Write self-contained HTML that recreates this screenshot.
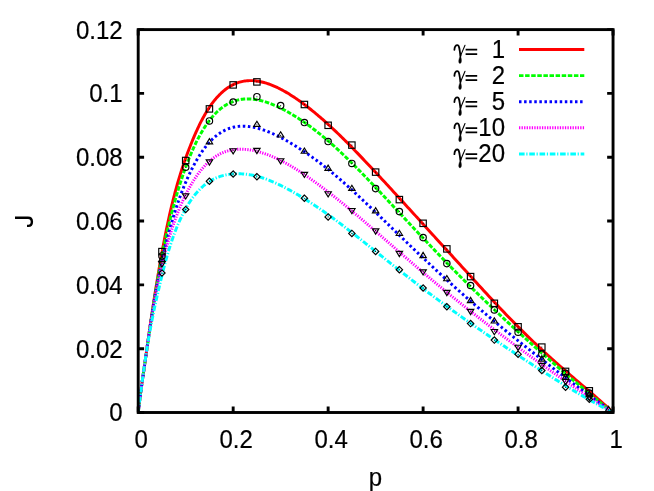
<!DOCTYPE html>
<html><head><meta charset="utf-8"><title>J vs p</title>
<style>html,body{margin:0;padding:0;background:#fff;}body{width:654px;height:491px;overflow:hidden;}svg{display:block;filter:blur(0.35px);}text{font-family:"Liberation Sans",sans-serif;font-size:24px;fill:#000;stroke:#000;stroke-width:0.2px;}.t{filter:grayscale(1);}.g{font-family:"Liberation Serif",serif;}</style></head><body>
<svg width="654" height="491" viewBox="0 0 654 491">
<rect x="0" y="0" width="654" height="491" fill="#fff"/>
<defs><clipPath id="pc"><rect x="138.20" y="29.60" width="474.85" height="382.90"/></clipPath></defs>
<g fill="none" stroke-width="2.95" stroke-linejoin="round" clip-path="url(#pc)">
<path d="M138.20,412.50 L138.23,412.24 L138.30,411.71 L138.39,410.99 L138.50,410.09 L138.63,409.04 L138.78,407.84 L138.94,406.51 L139.11,405.05 L139.30,403.47 L139.50,401.79 L139.72,400.02 L139.94,398.17 L140.18,396.25 L140.43,394.28 L140.69,392.27 L140.96,390.22 L141.25,388.15 L141.54,386.06 L141.84,383.94 L142.15,381.80 L142.47,379.62 L142.80,377.38 L143.14,375.08 L143.49,372.71 L143.85,370.27 L144.21,367.75 L144.59,365.15 L144.97,362.48 L145.36,359.72 L145.76,356.89 L146.16,353.99 L146.58,351.02 L147.00,348.00 L147.43,344.94 L147.87,341.83 L148.32,338.69 L148.77,335.51 L149.23,332.30 L149.70,329.05 L150.18,325.77 L150.66,322.47 L151.15,319.14 L151.64,315.78 L152.15,312.40 L152.66,309.01 L153.18,305.59 L153.70,302.17 L154.23,298.72 L154.77,295.27 L155.31,291.81 L155.86,288.35 L156.42,284.88 L156.99,281.40 L157.56,277.93 L158.13,274.47 L158.72,271.00 L159.31,267.55 L159.90,264.10 L160.50,260.67 L161.11,257.25 L161.72,253.84 L162.34,250.45 L162.97,247.09 L163.60,243.74 L164.24,240.42 L164.89,237.13 L165.54,233.86 L166.19,230.62 L166.85,227.41 L167.52,224.23 L168.19,221.09 L168.87,217.98 L169.56,214.91 L170.25,211.88 L170.94,208.88 L171.64,205.92 L172.35,203.01 L173.06,200.13 L173.78,197.30 L174.50,194.51 L175.23,191.75 L175.97,189.04 L176.71,186.38 L177.45,183.75 L178.20,181.17 L178.96,178.62 L179.72,176.11 L180.48,173.65 L181.26,171.22 L182.03,168.82 L182.81,166.46 L183.60,164.13 L184.39,161.83 L185.19,159.56 L185.99,157.31 L186.80,155.09 L187.61,152.88 L188.43,150.70 L189.25,148.55 L190.08,146.42 L190.91,144.31 L191.75,142.23 L192.59,140.17 L193.44,138.14 L194.29,136.14 L195.15,134.16 L196.01,132.21 L196.88,130.29 L197.75,128.41 L198.63,126.55 L199.51,124.73 L200.39,122.94 L201.28,121.19 L202.18,119.47 L203.08,117.80 L203.99,116.16 L204.90,114.56 L205.81,113.00 L206.73,111.47 L207.65,109.99 L208.58,108.54 L209.51,107.14 L210.45,105.77 L211.39,104.44 L212.34,103.14 L213.29,101.89 L214.25,100.67 L215.21,99.49 L216.17,98.35 L217.14,97.25 L218.12,96.18 L219.09,95.16 L220.08,94.17 L221.06,93.21 L222.06,92.30 L223.05,91.42 L224.05,90.57 L225.06,89.76 L226.07,88.99 L227.08,88.26 L228.10,87.56 L229.12,86.89 L230.15,86.27 L231.18,85.67 L232.21,85.11 L233.25,84.59 L234.30,84.10 L235.34,83.64 L236.40,83.21 L237.45,82.82 L238.51,82.46 L239.58,82.14 L240.65,81.85 L241.72,81.58 L242.80,81.35 L243.88,81.16 L244.97,80.99 L246.06,80.85 L247.15,80.74 L248.25,80.67 L249.35,80.62 L250.46,80.60 L251.57,80.61 L252.69,80.65 L253.80,80.72 L254.93,80.81 L256.05,80.94 L257.19,81.09 L258.32,81.26 L259.46,81.46 L260.60,81.69 L261.75,81.95 L262.90,82.23 L264.06,82.53 L265.22,82.86 L266.38,83.21 L267.55,83.59 L268.72,83.99 L269.89,84.42 L271.07,84.86 L272.26,85.33 L273.44,85.83 L274.63,86.34 L275.83,86.88 L277.03,87.43 L278.23,88.01 L279.44,88.61 L280.65,89.23 L281.86,89.87 L283.08,90.53 L284.30,91.20 L285.53,91.90 L286.76,92.62 L287.99,93.35 L289.23,94.11 L290.47,94.88 L291.71,95.67 L292.96,96.47 L294.21,97.30 L295.47,98.14 L296.73,99.00 L297.99,99.87 L299.26,100.76 L300.53,101.67 L301.81,102.60 L303.09,103.54 L304.37,104.49 L305.66,105.47 L306.95,106.45 L308.24,107.46 L309.54,108.47 L310.84,109.51 L312.14,110.55 L313.45,111.62 L314.76,112.70 L316.08,113.79 L317.40,114.90 L318.72,116.02 L320.05,117.15 L321.38,118.31 L322.71,119.47 L324.05,120.65 L325.39,121.85 L326.74,123.05 L328.09,124.28 L329.44,125.52 L330.79,126.77 L332.15,128.03 L333.52,129.31 L334.88,130.61 L336.25,131.91 L337.63,133.23 L339.00,134.56 L340.38,135.91 L341.77,137.26 L343.16,138.63 L344.55,140.01 L345.94,141.40 L347.34,142.80 L348.74,144.21 L350.15,145.64 L351.56,147.07 L352.97,148.51 L354.38,149.97 L355.80,151.43 L357.23,152.90 L358.65,154.38 L360.08,155.87 L361.52,157.37 L362.95,158.87 L364.39,160.39 L365.84,161.91 L367.28,163.44 L368.73,164.98 L370.19,166.53 L371.64,168.08 L373.11,169.64 L374.57,171.21 L376.04,172.78 L377.51,174.36 L378.98,175.95 L380.46,177.54 L381.94,179.14 L383.43,180.75 L384.91,182.36 L386.40,183.97 L387.90,185.60 L389.40,187.22 L390.90,188.86 L392.40,190.50 L393.91,192.14 L395.42,193.79 L396.94,195.44 L398.46,197.10 L399.98,198.76 L401.50,200.43 L403.03,202.10 L404.56,203.78 L406.10,205.46 L407.63,207.14 L409.18,208.83 L410.72,210.53 L412.27,212.22 L413.82,213.92 L415.37,215.63 L416.93,217.34 L418.49,219.05 L420.06,220.77 L421.62,222.49 L423.19,224.21 L424.77,225.94 L426.35,227.67 L427.93,229.41 L429.51,231.14 L431.10,232.89 L432.69,234.63 L434.28,236.38 L435.88,238.13 L437.48,239.89 L439.08,241.65 L440.69,243.41 L442.30,245.18 L443.91,246.95 L445.52,248.72 L447.14,250.50 L448.77,252.28 L450.39,254.07 L452.02,255.85 L453.65,257.64 L455.29,259.44 L456.93,261.23 L458.57,263.04 L460.21,264.84 L461.86,266.65 L463.51,268.46 L465.16,270.27 L466.82,272.09 L468.48,273.91 L470.14,275.74 L471.81,277.56 L473.48,279.39 L475.15,281.23 L476.83,283.06 L478.51,284.90 L480.19,286.74 L481.88,288.57 L483.56,290.41 L485.25,292.25 L486.95,294.09 L488.65,295.93 L490.35,297.76 L492.05,299.59 L493.76,301.43 L495.47,303.25 L497.18,305.08 L498.90,306.90 L500.62,308.72 L502.34,310.54 L504.06,312.35 L505.79,314.15 L507.52,315.95 L509.26,317.75 L511.00,319.54 L512.74,321.32 L514.48,323.10 L516.23,324.87 L517.98,326.64 L519.73,328.39 L521.48,330.15 L523.24,331.89 L525.00,333.63 L526.77,335.36 L528.54,337.08 L530.31,338.80 L532.08,340.50 L533.86,342.20 L535.64,343.90 L537.42,345.58 L539.21,347.26 L540.99,348.93 L542.79,350.59 L544.58,352.25 L546.38,353.89 L548.18,355.54 L549.98,357.17 L551.79,358.80 L553.60,360.42 L555.41,362.03 L557.23,363.64 L559.05,365.25 L560.87,366.85 L562.69,368.44 L564.52,370.03 L566.35,371.62 L568.18,373.21 L570.02,374.79 L571.86,376.37 L573.70,377.95 L575.54,379.53 L577.39,381.10 L579.24,382.68 L581.10,384.27 L582.95,385.85 L584.81,387.44 L586.67,389.03 L588.54,390.63 L590.41,392.24 L592.28,393.85 L594.15,395.47 L596.03,397.11 L597.91,398.75 L599.79,400.41 L601.68,402.08 L603.57,403.77 L605.46,405.47 L607.35,407.20 L609.25,408.94 L611.15,410.71 L613.05,412.50" stroke="#ff0000"/>
<path d="M138.20,412.50 L138.23,412.24 L138.30,411.72 L138.39,410.99 L138.50,410.10 L138.63,409.05 L138.78,407.85 L138.94,406.52 L139.11,405.07 L139.30,403.50 L139.50,401.83 L139.72,400.07 L139.94,398.23 L140.18,396.31 L140.43,394.34 L140.69,392.33 L140.96,390.28 L141.25,388.20 L141.54,386.09 L141.84,383.97 L142.15,381.81 L142.47,379.61 L142.80,377.35 L143.14,375.03 L143.49,372.65 L143.85,370.20 L144.21,367.68 L144.59,365.09 L144.97,362.42 L145.36,359.68 L145.76,356.87 L146.16,353.99 L146.58,351.06 L147.00,348.07 L147.43,345.05 L147.87,341.99 L148.32,338.90 L148.77,335.78 L149.23,332.63 L149.70,329.45 L150.18,326.25 L150.66,323.02 L151.15,319.78 L151.64,316.52 L152.15,313.25 L152.66,309.96 L153.18,306.66 L153.70,303.35 L154.23,300.04 L154.77,296.73 L155.31,293.41 L155.86,290.10 L156.42,286.79 L156.99,283.48 L157.56,280.19 L158.13,276.90 L158.72,273.63 L159.31,270.37 L159.90,267.12 L160.50,263.90 L161.11,260.69 L161.72,257.50 L162.34,254.34 L162.97,251.21 L163.60,248.09 L164.24,245.01 L164.89,241.95 L165.54,238.93 L166.19,235.93 L166.85,232.97 L167.52,230.03 L168.19,227.13 L168.87,224.26 L169.56,221.43 L170.25,218.62 L170.94,215.85 L171.64,213.11 L172.35,210.39 L173.06,207.71 L173.78,205.06 L174.50,202.43 L175.23,199.83 L175.97,197.26 L176.71,194.71 L177.45,192.19 L178.20,189.70 L178.96,187.24 L179.72,184.81 L180.48,182.41 L181.26,180.04 L182.03,177.69 L182.81,175.38 L183.60,173.10 L184.39,170.85 L185.19,168.62 L185.99,166.44 L186.80,164.28 L187.61,162.15 L188.43,160.06 L189.25,158.00 L190.08,155.97 L190.91,153.97 L191.75,152.01 L192.59,150.08 L193.44,148.19 L194.29,146.33 L195.15,144.50 L196.01,142.72 L196.88,140.96 L197.75,139.24 L198.63,137.56 L199.51,135.92 L200.39,134.31 L201.28,132.74 L202.18,131.21 L203.08,129.72 L203.99,128.26 L204.90,126.85 L205.81,125.47 L206.73,124.12 L207.65,122.82 L208.58,121.55 L209.51,120.32 L210.45,119.13 L211.39,117.97 L212.34,116.85 L213.29,115.77 L214.25,114.72 L215.21,113.71 L216.17,112.73 L217.14,111.80 L218.12,110.89 L219.09,110.03 L220.08,109.19 L221.06,108.40 L222.06,107.63 L223.05,106.90 L224.05,106.21 L225.06,105.55 L226.07,104.92 L227.08,104.33 L228.10,103.77 L229.12,103.24 L230.15,102.74 L231.18,102.28 L232.21,101.85 L233.25,101.45 L234.30,101.08 L235.34,100.74 L236.40,100.43 L237.45,100.15 L238.51,99.90 L239.58,99.68 L240.65,99.49 L241.72,99.32 L242.80,99.19 L243.88,99.08 L244.97,99.00 L246.06,98.95 L247.15,98.92 L248.25,98.92 L249.35,98.95 L250.46,99.00 L251.57,99.07 L252.69,99.18 L253.80,99.30 L254.93,99.45 L256.05,99.62 L257.19,99.82 L258.32,100.04 L259.46,100.28 L260.60,100.54 L261.75,100.83 L262.90,101.14 L264.06,101.47 L265.22,101.82 L266.38,102.19 L267.55,102.58 L268.72,102.99 L269.89,103.42 L271.07,103.87 L272.26,104.33 L273.44,104.82 L274.63,105.33 L275.83,105.85 L277.03,106.39 L278.23,106.95 L279.44,107.53 L280.65,108.12 L281.86,108.73 L283.08,109.36 L284.30,110.00 L285.53,110.66 L286.76,111.33 L287.99,112.02 L289.23,112.73 L290.47,113.45 L291.71,114.19 L292.96,114.94 L294.21,115.71 L295.47,116.50 L296.73,117.29 L297.99,118.11 L299.26,118.93 L300.53,119.77 L301.81,120.63 L303.09,121.50 L304.37,122.39 L305.66,123.29 L306.95,124.20 L308.24,125.13 L309.54,126.07 L310.84,127.03 L312.14,128.00 L313.45,128.99 L314.76,129.99 L316.08,131.00 L317.40,132.03 L318.72,133.08 L320.05,134.14 L321.38,135.22 L322.71,136.31 L324.05,137.42 L325.39,138.54 L326.74,139.68 L328.09,140.83 L329.44,142.00 L330.79,143.19 L332.15,144.39 L333.52,145.61 L334.88,146.84 L336.25,148.09 L337.63,149.35 L339.00,150.63 L340.38,151.92 L341.77,153.22 L343.16,154.54 L344.55,155.87 L345.94,157.22 L347.34,158.57 L348.74,159.94 L350.15,161.32 L351.56,162.72 L352.97,164.12 L354.38,165.53 L355.80,166.96 L357.23,168.40 L358.65,169.84 L360.08,171.30 L361.52,172.77 L362.95,174.24 L364.39,175.73 L365.84,177.22 L367.28,178.72 L368.73,180.23 L370.19,181.75 L371.64,183.28 L373.11,184.81 L374.57,186.35 L376.04,187.90 L377.51,189.46 L378.98,191.02 L380.46,192.59 L381.94,194.17 L383.43,195.75 L384.91,197.33 L386.40,198.92 L387.90,200.52 L389.40,202.12 L390.90,203.73 L392.40,205.34 L393.91,206.96 L395.42,208.58 L396.94,210.20 L398.46,211.83 L399.98,213.46 L401.50,215.09 L403.03,216.73 L404.56,218.37 L406.10,220.01 L407.63,221.66 L409.18,223.31 L410.72,224.96 L412.27,226.61 L413.82,228.27 L415.37,229.92 L416.93,231.58 L418.49,233.24 L420.06,234.90 L421.62,236.56 L423.19,238.22 L424.77,239.88 L426.35,241.55 L427.93,243.21 L429.51,244.87 L431.10,246.54 L432.69,248.20 L434.28,249.87 L435.88,251.53 L437.48,253.20 L439.08,254.86 L440.69,256.53 L442.30,258.19 L443.91,259.85 L445.52,261.51 L447.14,263.18 L448.77,264.84 L450.39,266.50 L452.02,268.16 L453.65,269.81 L455.29,271.47 L456.93,273.12 L458.57,274.78 L460.21,276.43 L461.86,278.08 L463.51,279.73 L465.16,281.38 L466.82,283.03 L468.48,284.68 L470.14,286.32 L471.81,287.96 L473.48,289.60 L475.15,291.24 L476.83,292.88 L478.51,294.52 L480.19,296.15 L481.88,297.79 L483.56,299.42 L485.25,301.05 L486.95,302.67 L488.65,304.30 L490.35,305.92 L492.05,307.55 L493.76,309.17 L495.47,310.79 L497.18,312.41 L498.90,314.02 L500.62,315.64 L502.34,317.25 L504.06,318.86 L505.79,320.47 L507.52,322.08 L509.26,323.68 L511.00,325.29 L512.74,326.89 L514.48,328.49 L516.23,330.09 L517.98,331.69 L519.73,333.29 L521.48,334.89 L523.24,336.48 L525.00,338.07 L526.77,339.66 L528.54,341.25 L530.31,342.84 L532.08,344.43 L533.86,346.02 L535.64,347.60 L537.42,349.19 L539.21,350.77 L540.99,352.35 L542.79,353.93 L544.58,355.51 L546.38,357.08 L548.18,358.66 L549.98,360.23 L551.79,361.81 L553.60,363.38 L555.41,364.95 L557.23,366.52 L559.05,368.09 L560.87,369.65 L562.69,371.22 L564.52,372.78 L566.35,374.34 L568.18,375.90 L570.02,377.46 L571.86,379.01 L573.70,380.57 L575.54,382.12 L577.39,383.67 L579.24,385.22 L581.10,386.76 L582.95,388.30 L584.81,389.84 L586.67,391.38 L588.54,392.91 L590.41,394.45 L592.28,395.97 L594.15,397.50 L596.03,399.02 L597.91,400.54 L599.79,402.05 L601.68,403.56 L603.57,405.06 L605.46,406.56 L607.35,408.05 L609.25,409.54 L611.15,411.02 L613.05,412.50" stroke="#00ff00" stroke-dasharray="4.5 1.6"/>
<path d="M138.20,412.50 L138.23,412.24 L138.30,411.71 L138.39,410.99 L138.50,410.09 L138.63,409.04 L138.78,407.84 L138.94,406.51 L139.11,405.05 L139.30,403.48 L139.50,401.80 L139.72,400.04 L139.94,398.19 L140.18,396.27 L140.43,394.30 L140.69,392.29 L140.96,390.25 L141.25,388.18 L141.54,386.09 L141.84,383.97 L142.15,381.83 L142.47,379.65 L142.80,377.40 L143.14,375.09 L143.49,372.71 L143.85,370.25 L144.21,367.72 L144.59,365.11 L144.97,362.41 L145.36,359.64 L145.76,356.80 L146.16,353.88 L146.58,350.90 L147.00,347.88 L147.43,344.83 L147.87,341.75 L148.32,338.64 L148.77,335.51 L149.23,332.37 L149.70,329.20 L150.18,326.03 L150.66,322.85 L151.15,319.67 L151.64,316.49 L152.15,313.31 L152.66,310.13 L153.18,306.97 L153.70,303.81 L154.23,300.68 L154.77,297.55 L155.31,294.45 L155.86,291.38 L156.42,288.32 L156.99,285.29 L157.56,282.29 L158.13,279.31 L158.72,276.37 L159.31,273.45 L159.90,270.56 L160.50,267.69 L161.11,264.86 L161.72,262.04 L162.34,259.25 L162.97,256.48 L163.60,253.73 L164.24,251.00 L164.89,248.30 L165.54,245.62 L166.19,242.96 L166.85,240.33 L167.52,237.72 L168.19,235.14 L168.87,232.59 L169.56,230.06 L170.25,227.56 L170.94,225.08 L171.64,222.63 L172.35,220.22 L173.06,217.82 L173.78,215.46 L174.50,213.13 L175.23,210.82 L175.97,208.54 L176.71,206.30 L177.45,204.08 L178.20,201.89 L178.96,199.73 L179.72,197.60 L180.48,195.50 L181.26,193.43 L182.03,191.39 L182.81,189.38 L183.60,187.40 L184.39,185.45 L185.19,183.52 L185.99,181.63 L186.80,179.77 L187.61,177.94 L188.43,176.14 L189.25,174.37 L190.08,172.63 L190.91,170.92 L191.75,169.24 L192.59,167.59 L193.44,165.97 L194.29,164.38 L195.15,162.82 L196.01,161.29 L196.88,159.79 L197.75,158.33 L198.63,156.89 L199.51,155.49 L200.39,154.11 L201.28,152.77 L202.18,151.46 L203.08,150.18 L203.99,148.94 L204.90,147.73 L205.81,146.55 L206.73,145.40 L207.65,144.29 L208.58,143.22 L209.51,142.17 L210.45,141.17 L211.39,140.20 L212.34,139.26 L213.29,138.36 L214.25,137.49 L215.21,136.66 L216.17,135.86 L217.14,135.10 L218.12,134.37 L219.09,133.67 L220.08,133.01 L221.06,132.38 L222.06,131.78 L223.05,131.22 L224.05,130.68 L225.06,130.18 L226.07,129.71 L227.08,129.27 L228.10,128.86 L229.12,128.48 L230.15,128.14 L231.18,127.82 L232.21,127.53 L233.25,127.27 L234.30,127.04 L235.34,126.83 L236.40,126.66 L237.45,126.51 L238.51,126.39 L239.58,126.30 L240.65,126.23 L241.72,126.19 L242.80,126.17 L243.88,126.18 L244.97,126.21 L246.06,126.27 L247.15,126.35 L248.25,126.46 L249.35,126.59 L250.46,126.74 L251.57,126.92 L252.69,127.11 L253.80,127.33 L254.93,127.57 L256.05,127.83 L257.19,128.11 L258.32,128.41 L259.46,128.73 L260.60,129.07 L261.75,129.43 L262.90,129.81 L264.06,130.21 L265.22,130.62 L266.38,131.05 L267.55,131.50 L268.72,131.97 L269.89,132.45 L271.07,132.95 L272.26,133.47 L273.44,134.00 L274.63,134.55 L275.83,135.11 L277.03,135.69 L278.23,136.28 L279.44,136.88 L280.65,137.51 L281.86,138.14 L283.08,138.79 L284.30,139.45 L285.53,140.13 L286.76,140.81 L287.99,141.52 L289.23,142.23 L290.47,142.96 L291.71,143.70 L292.96,144.45 L294.21,145.21 L295.47,145.99 L296.73,146.78 L297.99,147.58 L299.26,148.39 L300.53,149.22 L301.81,150.05 L303.09,150.90 L304.37,151.76 L305.66,152.63 L306.95,153.51 L308.24,154.41 L309.54,155.32 L310.84,156.23 L312.14,157.17 L313.45,158.11 L314.76,159.06 L316.08,160.03 L317.40,161.01 L318.72,162.00 L320.05,163.00 L321.38,164.02 L322.71,165.05 L324.05,166.09 L325.39,167.15 L326.74,168.22 L328.09,169.30 L329.44,170.40 L330.79,171.51 L332.15,172.64 L333.52,173.77 L334.88,174.93 L336.25,176.09 L337.63,177.27 L339.00,178.45 L340.38,179.65 L341.77,180.87 L343.16,182.09 L344.55,183.32 L345.94,184.57 L347.34,185.82 L348.74,187.09 L350.15,188.36 L351.56,189.65 L352.97,190.94 L354.38,192.25 L355.80,193.56 L357.23,194.88 L358.65,196.21 L360.08,197.55 L361.52,198.89 L362.95,200.24 L364.39,201.60 L365.84,202.97 L367.28,204.35 L368.73,205.73 L370.19,207.11 L371.64,208.51 L373.11,209.91 L374.57,211.31 L376.04,212.72 L377.51,214.14 L378.98,215.56 L380.46,216.98 L381.94,218.41 L383.43,219.85 L384.91,221.29 L386.40,222.73 L387.90,224.18 L389.40,225.62 L390.90,227.08 L392.40,228.53 L393.91,229.99 L395.42,231.45 L396.94,232.92 L398.46,234.39 L399.98,235.86 L401.50,237.33 L403.03,238.80 L404.56,240.27 L406.10,241.75 L407.63,243.23 L409.18,244.71 L410.72,246.19 L412.27,247.67 L413.82,249.15 L415.37,250.63 L416.93,252.11 L418.49,253.60 L420.06,255.08 L421.62,256.56 L423.19,258.05 L424.77,259.53 L426.35,261.01 L427.93,262.50 L429.51,263.98 L431.10,265.46 L432.69,266.94 L434.28,268.42 L435.88,269.90 L437.48,271.38 L439.08,272.86 L440.69,274.34 L442.30,275.81 L443.91,277.29 L445.52,278.76 L447.14,280.23 L448.77,281.70 L450.39,283.17 L452.02,284.64 L453.65,286.11 L455.29,287.57 L456.93,289.03 L458.57,290.50 L460.21,291.96 L461.86,293.41 L463.51,294.87 L465.16,296.33 L466.82,297.78 L468.48,299.23 L470.14,300.68 L471.81,302.13 L473.48,303.58 L475.15,305.02 L476.83,306.46 L478.51,307.90 L480.19,309.34 L481.88,310.78 L483.56,312.22 L485.25,313.65 L486.95,315.08 L488.65,316.52 L490.35,317.94 L492.05,319.37 L493.76,320.80 L495.47,322.22 L497.18,323.65 L498.90,325.07 L500.62,326.49 L502.34,327.91 L504.06,329.33 L505.79,330.74 L507.52,332.16 L509.26,333.57 L511.00,334.98 L512.74,336.39 L514.48,337.80 L516.23,339.21 L517.98,340.62 L519.73,342.03 L521.48,343.43 L523.24,344.84 L525.00,346.24 L526.77,347.65 L528.54,349.05 L530.31,350.45 L532.08,351.85 L533.86,353.25 L535.64,354.65 L537.42,356.05 L539.21,357.45 L540.99,358.84 L542.79,360.24 L544.58,361.64 L546.38,363.03 L548.18,364.43 L549.98,365.82 L551.79,367.21 L553.60,368.61 L555.41,370.00 L557.23,371.39 L559.05,372.78 L560.87,374.17 L562.69,375.56 L564.52,376.95 L566.35,378.34 L568.18,379.73 L570.02,381.12 L571.86,382.50 L573.70,383.89 L575.54,385.27 L577.39,386.65 L579.24,388.03 L581.10,389.41 L582.95,390.79 L584.81,392.17 L586.67,393.54 L588.54,394.92 L590.41,396.29 L592.28,397.66 L594.15,399.02 L596.03,400.39 L597.91,401.75 L599.79,403.10 L601.68,404.46 L603.57,405.81 L605.46,407.16 L607.35,408.50 L609.25,409.84 L611.15,411.17 L613.05,412.50" stroke="#0000ff" stroke-dasharray="2.5 2.59"/>
<path d="M138.20,412.50 L138.23,412.24 L138.30,411.72 L138.39,411.00 L138.50,410.11 L138.63,409.07 L138.78,407.90 L138.94,406.59 L139.11,405.17 L139.30,403.63 L139.50,401.99 L139.72,400.27 L139.94,398.45 L140.18,396.57 L140.43,394.62 L140.69,392.61 L140.96,390.55 L141.25,388.46 L141.54,386.32 L141.84,384.15 L142.15,381.93 L142.47,379.67 L142.80,377.35 L143.14,374.97 L143.49,372.52 L143.85,370.01 L144.21,367.44 L144.59,364.80 L144.97,362.10 L145.36,359.34 L145.76,356.51 L146.16,353.64 L146.58,350.72 L147.00,347.76 L147.43,344.78 L147.87,341.77 L148.32,338.75 L148.77,335.71 L149.23,332.66 L149.70,329.60 L150.18,326.53 L150.66,323.46 L151.15,320.39 L151.64,317.33 L152.15,314.28 L152.66,311.24 L153.18,308.21 L153.70,305.20 L154.23,302.21 L154.77,299.24 L155.31,296.29 L155.86,293.37 L156.42,290.48 L156.99,287.62 L157.56,284.79 L158.13,281.99 L158.72,279.22 L159.31,276.49 L159.90,273.79 L160.50,271.11 L161.11,268.47 L161.72,265.86 L162.34,263.27 L162.97,260.71 L163.60,258.17 L164.24,255.67 L164.89,253.18 L165.54,250.73 L166.19,248.30 L166.85,245.91 L167.52,243.54 L168.19,241.20 L168.87,238.89 L169.56,236.61 L170.25,234.36 L170.94,232.14 L171.64,229.95 L172.35,227.79 L173.06,225.66 L173.78,223.57 L174.50,221.50 L175.23,219.46 L175.97,217.46 L176.71,215.48 L177.45,213.53 L178.20,211.62 L178.96,209.73 L179.72,207.88 L180.48,206.05 L181.26,204.26 L182.03,202.49 L182.81,200.76 L183.60,199.05 L184.39,197.38 L185.19,195.73 L185.99,194.11 L186.80,192.52 L187.61,190.96 L188.43,189.43 L189.25,187.93 L190.08,186.45 L190.91,185.01 L191.75,183.59 L192.59,182.20 L193.44,180.83 L194.29,179.50 L195.15,178.19 L196.01,176.91 L196.88,175.66 L197.75,174.44 L198.63,173.24 L199.51,172.07 L200.39,170.94 L201.28,169.82 L202.18,168.74 L203.08,167.69 L203.99,166.66 L204.90,165.66 L205.81,164.70 L206.73,163.76 L207.65,162.86 L208.58,161.98 L209.51,161.14 L210.45,160.32 L211.39,159.54 L212.34,158.79 L213.29,158.08 L214.25,157.39 L215.21,156.73 L216.17,156.11 L217.14,155.51 L218.12,154.94 L219.09,154.40 L220.08,153.89 L221.06,153.41 L222.06,152.96 L223.05,152.53 L224.05,152.14 L225.06,151.76 L226.07,151.42 L227.08,151.10 L228.10,150.81 L229.12,150.54 L230.15,150.30 L231.18,150.09 L232.21,149.89 L233.25,149.72 L234.30,149.58 L235.34,149.46 L236.40,149.36 L237.45,149.29 L238.51,149.23 L239.58,149.20 L240.65,149.19 L241.72,149.20 L242.80,149.24 L243.88,149.29 L244.97,149.36 L246.06,149.46 L247.15,149.57 L248.25,149.70 L249.35,149.85 L250.46,150.02 L251.57,150.21 L252.69,150.42 L253.80,150.65 L254.93,150.89 L256.05,151.15 L257.19,151.43 L258.32,151.72 L259.46,152.03 L260.60,152.36 L261.75,152.71 L262.90,153.07 L264.06,153.45 L265.22,153.84 L266.38,154.25 L267.55,154.68 L268.72,155.12 L269.89,155.58 L271.07,156.06 L272.26,156.55 L273.44,157.05 L274.63,157.57 L275.83,158.11 L277.03,158.67 L278.23,159.23 L279.44,159.82 L280.65,160.42 L281.86,161.04 L283.08,161.67 L284.30,162.32 L285.53,162.99 L286.76,163.66 L287.99,164.36 L289.23,165.07 L290.47,165.79 L291.71,166.53 L292.96,167.28 L294.21,168.04 L295.47,168.82 L296.73,169.61 L297.99,170.41 L299.26,171.22 L300.53,172.05 L301.81,172.89 L303.09,173.74 L304.37,174.60 L305.66,175.47 L306.95,176.36 L308.24,177.25 L309.54,178.16 L310.84,179.07 L312.14,180.00 L313.45,180.94 L314.76,181.88 L316.08,182.84 L317.40,183.80 L318.72,184.78 L320.05,185.76 L321.38,186.75 L322.71,187.76 L324.05,188.77 L325.39,189.79 L326.74,190.81 L328.09,191.85 L329.44,192.89 L330.79,193.95 L332.15,195.01 L333.52,196.08 L334.88,197.16 L336.25,198.24 L337.63,199.34 L339.00,200.44 L340.38,201.55 L341.77,202.66 L343.16,203.79 L344.55,204.92 L345.94,206.06 L347.34,207.21 L348.74,208.37 L350.15,209.53 L351.56,210.70 L352.97,211.88 L354.38,213.07 L355.80,214.27 L357.23,215.47 L358.65,216.68 L360.08,217.90 L361.52,219.12 L362.95,220.35 L364.39,221.58 L365.84,222.83 L367.28,224.07 L368.73,225.33 L370.19,226.58 L371.64,227.85 L373.11,229.12 L374.57,230.39 L376.04,231.67 L377.51,232.95 L378.98,234.23 L380.46,235.52 L381.94,236.82 L383.43,238.11 L384.91,239.41 L386.40,240.72 L387.90,242.02 L389.40,243.33 L390.90,244.64 L392.40,245.96 L393.91,247.27 L395.42,248.59 L396.94,249.91 L398.46,251.24 L399.98,252.56 L401.50,253.89 L403.03,255.21 L404.56,256.54 L406.10,257.87 L407.63,259.20 L409.18,260.54 L410.72,261.87 L412.27,263.20 L413.82,264.54 L415.37,265.87 L416.93,267.20 L418.49,268.54 L420.06,269.88 L421.62,271.21 L423.19,272.55 L424.77,273.88 L426.35,275.22 L427.93,276.55 L429.51,277.88 L431.10,279.22 L432.69,280.55 L434.28,281.88 L435.88,283.22 L437.48,284.55 L439.08,285.88 L440.69,287.21 L442.30,288.54 L443.91,289.86 L445.52,291.19 L447.14,292.52 L448.77,293.84 L450.39,295.17 L452.02,296.49 L453.65,297.81 L455.29,299.13 L456.93,300.45 L458.57,301.77 L460.21,303.09 L461.86,304.40 L463.51,305.72 L465.16,307.03 L466.82,308.34 L468.48,309.66 L470.14,310.97 L471.81,312.28 L473.48,313.58 L475.15,314.89 L476.83,316.20 L478.51,317.50 L480.19,318.80 L481.88,320.11 L483.56,321.41 L485.25,322.71 L486.95,324.01 L488.65,325.31 L490.35,326.60 L492.05,327.90 L493.76,329.19 L495.47,330.49 L497.18,331.78 L498.90,333.08 L500.62,334.37 L502.34,335.66 L504.06,336.95 L505.79,338.24 L507.52,339.53 L509.26,340.82 L511.00,342.10 L512.74,343.39 L514.48,344.68 L516.23,345.96 L517.98,347.25 L519.73,348.54 L521.48,349.82 L523.24,351.10 L525.00,352.39 L526.77,353.67 L528.54,354.95 L530.31,356.24 L532.08,357.52 L533.86,358.80 L535.64,360.08 L537.42,361.36 L539.21,362.64 L540.99,363.92 L542.79,365.20 L544.58,366.48 L546.38,367.76 L548.18,369.04 L549.98,370.31 L551.79,371.59 L553.60,372.87 L555.41,374.14 L557.23,375.42 L559.05,376.69 L560.87,377.96 L562.69,379.23 L564.52,380.50 L566.35,381.77 L568.18,383.04 L570.02,384.30 L571.86,385.57 L573.70,386.83 L575.54,388.09 L577.39,389.34 L579.24,390.60 L581.10,391.85 L582.95,393.10 L584.81,394.35 L586.67,395.59 L588.54,396.83 L590.41,398.07 L592.28,399.30 L594.15,400.53 L596.03,401.75 L597.91,402.97 L599.79,404.18 L601.68,405.39 L603.57,406.59 L605.46,407.79 L607.35,408.98 L609.25,410.16 L611.15,411.33 L613.05,412.50" stroke="#ff00ff" stroke-dasharray="1.3 1.25"/>
<path d="M138.20,412.50 L138.23,412.24 L138.30,411.72 L138.39,411.01 L138.50,410.13 L138.63,409.12 L138.78,407.97 L138.94,406.70 L139.11,405.32 L139.30,403.83 L139.50,402.24 L139.72,400.56 L139.94,398.78 L140.18,396.92 L140.43,394.98 L140.69,392.96 L140.96,390.86 L141.25,388.70 L141.54,386.48 L141.84,384.20 L142.15,381.86 L142.47,379.48 L142.80,377.05 L143.14,374.58 L143.49,372.07 L143.85,369.53 L144.21,366.97 L144.59,364.38 L144.97,361.77 L145.36,359.14 L145.76,356.50 L146.16,353.86 L146.58,351.20 L147.00,348.54 L147.43,345.87 L147.87,343.20 L148.32,340.53 L148.77,337.87 L149.23,335.21 L149.70,332.55 L150.18,329.91 L150.66,327.27 L151.15,324.65 L151.64,322.04 L152.15,319.45 L152.66,316.87 L153.18,314.30 L153.70,311.75 L154.23,309.21 L154.77,306.68 L155.31,304.16 L155.86,301.66 L156.42,299.16 L156.99,296.66 L157.56,294.17 L158.13,291.67 L158.72,289.16 L159.31,286.64 L159.90,284.10 L160.50,281.54 L161.11,278.97 L161.72,276.40 L162.34,273.85 L162.97,271.33 L163.60,268.83 L164.24,266.36 L164.89,263.92 L165.54,261.51 L166.19,259.12 L166.85,256.78 L167.52,254.46 L168.19,252.18 L168.87,249.93 L169.56,247.71 L170.25,245.53 L170.94,243.39 L171.64,241.28 L172.35,239.21 L173.06,237.18 L173.78,235.18 L174.50,233.22 L175.23,231.30 L175.97,229.42 L176.71,227.57 L177.45,225.77 L178.20,223.99 L178.96,222.26 L179.72,220.56 L180.48,218.90 L181.26,217.27 L182.03,215.67 L182.81,214.11 L183.60,212.59 L184.39,211.09 L185.19,209.62 L185.99,208.19 L186.80,206.78 L187.61,205.40 L188.43,204.06 L189.25,202.75 L190.08,201.48 L190.91,200.24 L191.75,199.03 L192.59,197.85 L193.44,196.71 L194.29,195.60 L195.15,194.53 L196.01,193.48 L196.88,192.47 L197.75,191.49 L198.63,190.54 L199.51,189.63 L200.39,188.74 L201.28,187.88 L202.18,187.05 L203.08,186.26 L203.99,185.49 L204.90,184.75 L205.81,184.03 L206.73,183.35 L207.65,182.69 L208.58,182.06 L209.51,181.46 L210.45,180.89 L211.39,180.33 L212.34,179.81 L213.29,179.31 L214.25,178.83 L215.21,178.38 L216.17,177.95 L217.14,177.55 L218.12,177.16 L219.09,176.80 L220.08,176.46 L221.06,176.15 L222.06,175.85 L223.05,175.58 L224.05,175.33 L225.06,175.09 L226.07,174.88 L227.08,174.68 L228.10,174.51 L229.12,174.35 L230.15,174.21 L231.18,174.09 L232.21,173.99 L233.25,173.91 L234.30,173.84 L235.34,173.79 L236.40,173.76 L237.45,173.75 L238.51,173.75 L239.58,173.77 L240.65,173.80 L241.72,173.85 L242.80,173.92 L243.88,174.00 L244.97,174.10 L246.06,174.22 L247.15,174.35 L248.25,174.50 L249.35,174.67 L250.46,174.85 L251.57,175.05 L252.69,175.26 L253.80,175.50 L254.93,175.75 L256.05,176.01 L257.19,176.30 L258.32,176.60 L259.46,176.92 L260.60,177.26 L261.75,177.62 L262.90,177.99 L264.06,178.38 L265.22,178.78 L266.38,179.21 L267.55,179.64 L268.72,180.09 L269.89,180.56 L271.07,181.04 L272.26,181.54 L273.44,182.05 L274.63,182.57 L275.83,183.11 L277.03,183.66 L278.23,184.23 L279.44,184.80 L280.65,185.39 L281.86,185.99 L283.08,186.61 L284.30,187.23 L285.53,187.87 L286.76,188.52 L287.99,189.18 L289.23,189.85 L290.47,190.54 L291.71,191.23 L292.96,191.93 L294.21,192.65 L295.47,193.37 L296.73,194.11 L297.99,194.85 L299.26,195.61 L300.53,196.37 L301.81,197.15 L303.09,197.93 L304.37,198.73 L305.66,199.53 L306.95,200.34 L308.24,201.16 L309.54,201.99 L310.84,202.83 L312.14,203.68 L313.45,204.54 L314.76,205.41 L316.08,206.29 L317.40,207.18 L318.72,208.07 L320.05,208.98 L321.38,209.89 L322.71,210.82 L324.05,211.75 L325.39,212.69 L326.74,213.65 L328.09,214.61 L329.44,215.58 L330.79,216.56 L332.15,217.56 L333.52,218.56 L334.88,219.57 L336.25,220.59 L337.63,221.61 L339.00,222.65 L340.38,223.69 L341.77,224.74 L343.16,225.80 L344.55,226.87 L345.94,227.94 L347.34,229.02 L348.74,230.11 L350.15,231.20 L351.56,232.30 L352.97,233.40 L354.38,234.52 L355.80,235.63 L357.23,236.75 L358.65,237.88 L360.08,239.01 L361.52,240.15 L362.95,241.29 L364.39,242.43 L365.84,243.58 L367.28,244.74 L368.73,245.89 L370.19,247.05 L371.64,248.22 L373.11,249.39 L374.57,250.56 L376.04,251.73 L377.51,252.90 L378.98,254.08 L380.46,255.26 L381.94,256.44 L383.43,257.63 L384.91,258.82 L386.40,260.00 L387.90,261.19 L389.40,262.38 L390.90,263.58 L392.40,264.77 L393.91,265.96 L395.42,267.16 L396.94,268.36 L398.46,269.55 L399.98,270.75 L401.50,271.95 L403.03,273.15 L404.56,274.35 L406.10,275.54 L407.63,276.74 L409.18,277.94 L410.72,279.14 L412.27,280.34 L413.82,281.54 L415.37,282.74 L416.93,283.93 L418.49,285.13 L420.06,286.33 L421.62,287.52 L423.19,288.72 L424.77,289.91 L426.35,291.10 L427.93,292.30 L429.51,293.49 L431.10,294.68 L432.69,295.87 L434.28,297.06 L435.88,298.24 L437.48,299.43 L439.08,300.62 L440.69,301.80 L442.30,302.98 L443.91,304.17 L445.52,305.35 L447.14,306.53 L448.77,307.71 L450.39,308.88 L452.02,310.06 L453.65,311.24 L455.29,312.41 L456.93,313.58 L458.57,314.76 L460.21,315.93 L461.86,317.10 L463.51,318.27 L465.16,319.44 L466.82,320.60 L468.48,321.77 L470.14,322.93 L471.81,324.10 L473.48,325.26 L475.15,326.42 L476.83,327.59 L478.51,328.75 L480.19,329.91 L481.88,331.07 L483.56,332.23 L485.25,333.38 L486.95,334.54 L488.65,335.70 L490.35,336.85 L492.05,338.01 L493.76,339.17 L495.47,340.32 L497.18,341.48 L498.90,342.63 L500.62,343.78 L502.34,344.94 L504.06,346.09 L505.79,347.24 L507.52,348.40 L509.26,349.55 L511.00,350.70 L512.74,351.85 L514.48,353.00 L516.23,354.16 L517.98,355.31 L519.73,356.46 L521.48,357.61 L523.24,358.76 L525.00,359.91 L526.77,361.06 L528.54,362.21 L530.31,363.36 L532.08,364.51 L533.86,365.66 L535.64,366.81 L537.42,367.96 L539.21,369.10 L540.99,370.25 L542.79,371.40 L544.58,372.54 L546.38,373.69 L548.18,374.83 L549.98,375.97 L551.79,377.11 L553.60,378.25 L555.41,379.39 L557.23,380.53 L559.05,381.66 L560.87,382.79 L562.69,383.92 L564.52,385.05 L566.35,386.18 L568.18,387.30 L570.02,388.42 L571.86,389.53 L573.70,390.65 L575.54,391.75 L577.39,392.86 L579.24,393.96 L581.10,395.05 L582.95,396.14 L584.81,397.23 L586.67,398.30 L588.54,399.38 L590.41,400.44 L592.28,401.50 L594.15,402.55 L596.03,403.59 L597.91,404.62 L599.79,405.64 L601.68,406.66 L603.57,407.66 L605.46,408.65 L607.35,409.63 L609.25,410.60 L611.15,411.56 L613.05,412.50" stroke="#00ffff" stroke-dasharray="5.6 1.7 1.2 1.77"/>
</g>
<g fill="none" stroke-width="2.95">
<path d="M519.00,49.50 L584.30,49.50" stroke="#ff0000"/>
<path d="M519.00,75.60 L584.30,75.60" stroke="#00ff00" stroke-dasharray="4.5 1.6"/>
<path d="M519.00,101.70 L584.30,101.70" stroke="#0000ff" stroke-dasharray="2.5 2.59"/>
<path d="M519.00,127.80 L584.30,127.80" stroke="#ff00ff" stroke-dasharray="1.3 1.25"/>
<path d="M519.00,153.90 L584.30,153.90" stroke="#00ffff" stroke-dasharray="5.6 1.7 1.2 1.77"/>
</g>
<g fill="none" stroke="#000" stroke-width="1.15">
<rect x="158.74" y="248.40" width="6.40" height="6.40"/><circle cx="161.94" cy="251.60" r="0.55" fill="#000" stroke="none"/>
<rect x="182.49" y="157.30" width="6.40" height="6.40"/><circle cx="185.69" cy="160.50" r="0.55" fill="#000" stroke="none"/>
<rect x="206.23" y="105.70" width="6.40" height="6.40"/><circle cx="209.43" cy="108.90" r="0.55" fill="#000" stroke="none"/>
<rect x="229.97" y="81.70" width="6.40" height="6.40"/><circle cx="233.17" cy="84.90" r="0.55" fill="#000" stroke="none"/>
<rect x="253.71" y="78.70" width="6.40" height="6.40"/><circle cx="256.91" cy="81.90" r="0.55" fill="#000" stroke="none"/>
<rect x="301.20" y="101.30" width="6.40" height="6.40"/><circle cx="304.40" cy="104.50" r="0.55" fill="#000" stroke="none"/>
<rect x="324.94" y="122.10" width="6.40" height="6.40"/><circle cx="328.14" cy="125.30" r="0.55" fill="#000" stroke="none"/>
<rect x="348.68" y="141.90" width="6.40" height="6.40"/><circle cx="351.88" cy="145.10" r="0.55" fill="#000" stroke="none"/>
<rect x="372.43" y="168.90" width="6.40" height="6.40"/><circle cx="375.62" cy="172.10" r="0.55" fill="#000" stroke="none"/>
<rect x="396.17" y="196.40" width="6.40" height="6.40"/><circle cx="399.37" cy="199.60" r="0.55" fill="#000" stroke="none"/>
<rect x="419.91" y="220.10" width="6.40" height="6.40"/><circle cx="423.11" cy="223.30" r="0.55" fill="#000" stroke="none"/>
<rect x="443.65" y="245.70" width="6.40" height="6.40"/><circle cx="446.85" cy="248.90" r="0.55" fill="#000" stroke="none"/>
<rect x="467.39" y="273.40" width="6.40" height="6.40"/><circle cx="470.59" cy="276.60" r="0.55" fill="#000" stroke="none"/>
<rect x="491.14" y="300.10" width="6.40" height="6.40"/><circle cx="494.34" cy="303.30" r="0.55" fill="#000" stroke="none"/>
<rect x="514.88" y="323.60" width="6.40" height="6.40"/><circle cx="518.08" cy="326.80" r="0.55" fill="#000" stroke="none"/>
<rect x="538.62" y="343.90" width="6.40" height="6.40"/><circle cx="541.82" cy="347.10" r="0.55" fill="#000" stroke="none"/>
<rect x="562.36" y="368.20" width="6.40" height="6.40"/><circle cx="565.56" cy="371.40" r="0.55" fill="#000" stroke="none"/>
<rect x="586.11" y="387.60" width="6.40" height="6.40"/><circle cx="589.31" cy="390.80" r="0.55" fill="#000" stroke="none"/>
<circle cx="161.94" cy="255.90" r="3.20"/><circle cx="161.94" cy="255.90" r="0.55" fill="#000" stroke="none"/>
<circle cx="185.69" cy="167.30" r="3.20"/><circle cx="185.69" cy="167.30" r="0.55" fill="#000" stroke="none"/>
<circle cx="209.43" cy="120.90" r="3.20"/><circle cx="209.43" cy="120.90" r="0.55" fill="#000" stroke="none"/>
<circle cx="233.17" cy="102.00" r="3.20"/><circle cx="233.17" cy="102.00" r="0.55" fill="#000" stroke="none"/>
<circle cx="256.91" cy="96.70" r="3.20"/><circle cx="256.91" cy="96.70" r="0.55" fill="#000" stroke="none"/>
<circle cx="280.65" cy="105.60" r="3.20"/><circle cx="280.65" cy="105.60" r="0.55" fill="#000" stroke="none"/>
<circle cx="304.40" cy="122.50" r="3.20"/><circle cx="304.40" cy="122.50" r="0.55" fill="#000" stroke="none"/>
<circle cx="328.14" cy="141.50" r="3.20"/><circle cx="328.14" cy="141.50" r="0.55" fill="#000" stroke="none"/>
<circle cx="351.88" cy="163.40" r="3.20"/><circle cx="351.88" cy="163.40" r="0.55" fill="#000" stroke="none"/>
<circle cx="375.62" cy="188.60" r="3.20"/><circle cx="375.62" cy="188.60" r="0.55" fill="#000" stroke="none"/>
<circle cx="399.37" cy="211.60" r="3.20"/><circle cx="399.37" cy="211.60" r="0.55" fill="#000" stroke="none"/>
<circle cx="423.11" cy="237.60" r="3.20"/><circle cx="423.11" cy="237.60" r="0.55" fill="#000" stroke="none"/>
<circle cx="446.85" cy="263.60" r="3.20"/><circle cx="446.85" cy="263.60" r="0.55" fill="#000" stroke="none"/>
<circle cx="470.59" cy="285.50" r="3.20"/><circle cx="470.59" cy="285.50" r="0.55" fill="#000" stroke="none"/>
<circle cx="494.34" cy="309.90" r="3.20"/><circle cx="494.34" cy="309.90" r="0.55" fill="#000" stroke="none"/>
<circle cx="518.08" cy="332.20" r="3.20"/><circle cx="518.08" cy="332.20" r="0.55" fill="#000" stroke="none"/>
<circle cx="541.82" cy="354.00" r="3.20"/><circle cx="541.82" cy="354.00" r="0.55" fill="#000" stroke="none"/>
<circle cx="565.56" cy="373.30" r="3.20"/><circle cx="565.56" cy="373.30" r="0.55" fill="#000" stroke="none"/>
<circle cx="589.31" cy="393.00" r="3.20"/><circle cx="589.31" cy="393.00" r="0.55" fill="#000" stroke="none"/>
<path d="M161.94,256.12 L158.74,261.30 L165.14,261.30 Z"/><circle cx="161.94" cy="259.70" r="0.55" fill="#000" stroke="none"/>
<path d="M209.43,138.62 L206.23,143.80 L212.63,143.80 Z"/><circle cx="209.43" cy="142.20" r="0.55" fill="#000" stroke="none"/>
<path d="M256.91,121.22 L253.71,126.40 L260.11,126.40 Z"/><circle cx="256.91" cy="124.80" r="0.55" fill="#000" stroke="none"/>
<path d="M280.65,131.82 L277.45,137.00 L283.85,137.00 Z"/><circle cx="280.65" cy="135.40" r="0.55" fill="#000" stroke="none"/>
<path d="M304.40,148.02 L301.20,153.20 L307.60,153.20 Z"/><circle cx="304.40" cy="151.60" r="0.55" fill="#000" stroke="none"/>
<path d="M328.14,165.12 L324.94,170.30 L331.34,170.30 Z"/><circle cx="328.14" cy="168.70" r="0.55" fill="#000" stroke="none"/>
<path d="M351.88,185.22 L348.68,190.40 L355.08,190.40 Z"/><circle cx="351.88" cy="188.80" r="0.55" fill="#000" stroke="none"/>
<path d="M375.62,207.72 L372.43,212.90 L378.82,212.90 Z"/><circle cx="375.62" cy="211.30" r="0.55" fill="#000" stroke="none"/>
<path d="M399.37,230.32 L396.17,235.50 L402.57,235.50 Z"/><circle cx="399.37" cy="233.90" r="0.55" fill="#000" stroke="none"/>
<path d="M423.11,252.42 L419.91,257.60 L426.31,257.60 Z"/><circle cx="423.11" cy="256.00" r="0.55" fill="#000" stroke="none"/>
<path d="M446.85,275.52 L443.65,280.70 L450.05,280.70 Z"/><circle cx="446.85" cy="279.10" r="0.55" fill="#000" stroke="none"/>
<path d="M470.59,297.42 L467.39,302.60 L473.79,302.60 Z"/><circle cx="470.59" cy="301.00" r="0.55" fill="#000" stroke="none"/>
<path d="M494.34,317.82 L491.14,323.00 L497.54,323.00 Z"/><circle cx="494.34" cy="321.40" r="0.55" fill="#000" stroke="none"/>
<path d="M541.82,355.92 L538.62,361.10 L545.02,361.10 Z"/><circle cx="541.82" cy="359.50" r="0.55" fill="#000" stroke="none"/>
<path d="M565.56,374.02 L562.36,379.20 L568.76,379.20 Z"/><circle cx="565.56" cy="377.60" r="0.55" fill="#000" stroke="none"/>
<path d="M589.31,391.42 L586.11,396.60 L592.51,396.60 Z"/><circle cx="589.31" cy="395.00" r="0.55" fill="#000" stroke="none"/>
<path d="M608.54,406.22 L605.34,411.40 L611.74,411.40 Z"/><circle cx="608.54" cy="409.80" r="0.55" fill="#000" stroke="none"/>
<path d="M161.94,267.08 L158.74,261.90 L165.14,261.90 Z"/><circle cx="161.94" cy="263.50" r="0.55" fill="#000" stroke="none"/>
<path d="M185.69,198.98 L182.49,193.80 L188.88,193.80 Z"/><circle cx="185.69" cy="195.40" r="0.55" fill="#000" stroke="none"/>
<path d="M209.43,165.08 L206.23,159.90 L212.63,159.90 Z"/><circle cx="209.43" cy="161.50" r="0.55" fill="#000" stroke="none"/>
<path d="M233.17,153.88 L229.97,148.70 L236.37,148.70 Z"/><circle cx="233.17" cy="150.30" r="0.55" fill="#000" stroke="none"/>
<path d="M256.91,153.58 L253.71,148.40 L260.11,148.40 Z"/><circle cx="256.91" cy="150.00" r="0.55" fill="#000" stroke="none"/>
<path d="M280.65,163.88 L277.45,158.70 L283.85,158.70 Z"/><circle cx="280.65" cy="160.30" r="0.55" fill="#000" stroke="none"/>
<path d="M304.40,177.48 L301.20,172.30 L307.60,172.30 Z"/><circle cx="304.40" cy="173.90" r="0.55" fill="#000" stroke="none"/>
<path d="M328.14,196.88 L324.94,191.70 L331.34,191.70 Z"/><circle cx="328.14" cy="193.30" r="0.55" fill="#000" stroke="none"/>
<path d="M351.88,213.68 L348.68,208.50 L355.08,208.50 Z"/><circle cx="351.88" cy="210.10" r="0.55" fill="#000" stroke="none"/>
<path d="M375.62,234.08 L372.43,228.90 L378.82,228.90 Z"/><circle cx="375.62" cy="230.50" r="0.55" fill="#000" stroke="none"/>
<path d="M399.37,256.58 L396.17,251.40 L402.57,251.40 Z"/><circle cx="399.37" cy="253.00" r="0.55" fill="#000" stroke="none"/>
<path d="M423.11,274.98 L419.91,269.80 L426.31,269.80 Z"/><circle cx="423.11" cy="271.40" r="0.55" fill="#000" stroke="none"/>
<path d="M446.85,295.58 L443.65,290.40 L450.05,290.40 Z"/><circle cx="446.85" cy="292.00" r="0.55" fill="#000" stroke="none"/>
<path d="M470.59,314.58 L467.39,309.40 L473.79,309.40 Z"/><circle cx="470.59" cy="311.00" r="0.55" fill="#000" stroke="none"/>
<path d="M494.34,334.68 L491.14,329.50 L497.54,329.50 Z"/><circle cx="494.34" cy="331.10" r="0.55" fill="#000" stroke="none"/>
<path d="M518.08,350.38 L514.88,345.20 L521.28,345.20 Z"/><circle cx="518.08" cy="346.80" r="0.55" fill="#000" stroke="none"/>
<path d="M541.82,368.48 L538.62,363.30 L545.02,363.30 Z"/><circle cx="541.82" cy="364.90" r="0.55" fill="#000" stroke="none"/>
<path d="M565.56,384.58 L562.36,379.40 L568.76,379.40 Z"/><circle cx="565.56" cy="381.00" r="0.55" fill="#000" stroke="none"/>
<path d="M589.31,400.58 L586.11,395.40 L592.51,395.40 Z"/><circle cx="589.31" cy="397.00" r="0.55" fill="#000" stroke="none"/>
<path d="M161.94,269.80 L158.74,273.00 L161.94,276.20 L165.14,273.00 Z"/><circle cx="161.94" cy="273.00" r="0.55" fill="#000" stroke="none"/>
<path d="M185.69,206.30 L182.49,209.50 L185.69,212.70 L188.88,209.50 Z"/><circle cx="185.69" cy="209.50" r="0.55" fill="#000" stroke="none"/>
<path d="M209.43,178.00 L206.23,181.20 L209.43,184.40 L212.63,181.20 Z"/><circle cx="209.43" cy="181.20" r="0.55" fill="#000" stroke="none"/>
<path d="M233.17,170.80 L229.97,174.00 L233.17,177.20 L236.37,174.00 Z"/><circle cx="233.17" cy="174.00" r="0.55" fill="#000" stroke="none"/>
<path d="M256.91,173.50 L253.71,176.70 L256.91,179.90 L260.11,176.70 Z"/><circle cx="256.91" cy="176.70" r="0.55" fill="#000" stroke="none"/>
<path d="M304.40,195.00 L301.20,198.20 L304.40,201.40 L307.60,198.20 Z"/><circle cx="304.40" cy="198.20" r="0.55" fill="#000" stroke="none"/>
<path d="M328.14,213.70 L324.94,216.90 L328.14,220.10 L331.34,216.90 Z"/><circle cx="328.14" cy="216.90" r="0.55" fill="#000" stroke="none"/>
<path d="M351.88,230.20 L348.68,233.40 L351.88,236.60 L355.08,233.40 Z"/><circle cx="351.88" cy="233.40" r="0.55" fill="#000" stroke="none"/>
<path d="M375.62,248.20 L372.43,251.40 L375.62,254.60 L378.82,251.40 Z"/><circle cx="375.62" cy="251.40" r="0.55" fill="#000" stroke="none"/>
<path d="M399.37,266.50 L396.17,269.70 L399.37,272.90 L402.57,269.70 Z"/><circle cx="399.37" cy="269.70" r="0.55" fill="#000" stroke="none"/>
<path d="M423.11,284.80 L419.91,288.00 L423.11,291.20 L426.31,288.00 Z"/><circle cx="423.11" cy="288.00" r="0.55" fill="#000" stroke="none"/>
<path d="M446.85,303.50 L443.65,306.70 L446.85,309.90 L450.05,306.70 Z"/><circle cx="446.85" cy="306.70" r="0.55" fill="#000" stroke="none"/>
<path d="M470.59,320.40 L467.39,323.60 L470.59,326.80 L473.79,323.60 Z"/><circle cx="470.59" cy="323.60" r="0.55" fill="#000" stroke="none"/>
<path d="M494.34,336.90 L491.14,340.10 L494.34,343.30 L497.54,340.10 Z"/><circle cx="494.34" cy="340.10" r="0.55" fill="#000" stroke="none"/>
<path d="M518.08,351.00 L514.88,354.20 L518.08,357.40 L521.28,354.20 Z"/><circle cx="518.08" cy="354.20" r="0.55" fill="#000" stroke="none"/>
<path d="M541.82,367.30 L538.62,370.50 L541.82,373.70 L545.02,370.50 Z"/><circle cx="541.82" cy="370.50" r="0.55" fill="#000" stroke="none"/>
<path d="M565.56,384.00 L562.36,387.20 L565.56,390.40 L568.76,387.20 Z"/><circle cx="565.56" cy="387.20" r="0.55" fill="#000" stroke="none"/>
<path d="M589.31,396.10 L586.11,399.30 L589.31,402.50 L592.51,399.30 Z"/><circle cx="589.31" cy="399.30" r="0.55" fill="#000" stroke="none"/>
</g>
<g fill="none" stroke="#000" stroke-width="2.90" stroke-linecap="butt">
<rect x="138.20" y="29.60" width="474.85" height="382.90"/>
<path d="M138.20,412.50 v-5.90 M138.20,29.60 v5.90 M233.17,412.50 v-5.90 M233.17,29.60 v5.90 M328.14,412.50 v-5.90 M328.14,29.60 v5.90 M423.11,412.50 v-5.90 M423.11,29.60 v5.90 M518.08,412.50 v-5.90 M518.08,29.60 v5.90 M613.05,412.50 v-5.90 M613.05,29.60 v5.90 M138.20,412.50 h5.90 M613.05,412.50 h-5.90 M138.20,348.68 h5.90 M613.05,348.68 h-5.90 M138.20,284.87 h5.90 M613.05,284.87 h-5.90 M138.20,221.05 h5.90 M613.05,221.05 h-5.90 M138.20,157.23 h5.90 M613.05,157.23 h-5.90 M138.20,93.42 h5.90 M613.05,93.42 h-5.90 M138.20,29.60 h5.90 M613.05,29.60 h-5.90"/>
</g>
<g class="t">
<text transform="translate(122.60,421.40) scale(1,1.050)" text-anchor="end">0</text>
<text transform="translate(122.60,357.58) scale(1,1.050)" text-anchor="end">0.02</text>
<text transform="translate(122.60,293.77) scale(1,1.050)" text-anchor="end">0.04</text>
<text transform="translate(122.60,229.95) scale(1,1.050)" text-anchor="end">0.06</text>
<text transform="translate(122.60,166.13) scale(1,1.050)" text-anchor="end">0.08</text>
<text transform="translate(122.60,102.32) scale(1,1.050)" text-anchor="end">0.1</text>
<text transform="translate(122.60,38.50) scale(1,1.050)" text-anchor="end">0.12</text>
<text transform="translate(141.20,447.50) scale(1,1.050)" text-anchor="middle">0</text>
<text transform="translate(236.17,447.50) scale(1,1.050)" text-anchor="middle">0.2</text>
<text transform="translate(331.14,447.50) scale(1,1.050)" text-anchor="middle">0.4</text>
<text transform="translate(426.11,447.50) scale(1,1.050)" text-anchor="middle">0.6</text>
<text transform="translate(521.08,447.50) scale(1,1.050)" text-anchor="middle">0.8</text>
<text transform="translate(616.05,447.50) scale(1,1.050)" text-anchor="middle">1</text>
<text transform="translate(375.40,486.20) scale(1,1.050)" text-anchor="middle">p</text>
<text transform="translate(33.0,221.6) rotate(-90)" text-anchor="middle" fill="none" style="fill:none;stroke:none">J</text>
<path d="M15.0,217.7 L28.0,217.7 C30.6,217.7 31.9,219.3 31.9,221.8 C31.9,224.4 30.4,225.9 28.3,225.9 L27.0,225.9" fill="none" stroke="#000" stroke-width="2.4"/>
<text transform="translate(505.00,57.70) scale(1,1.050)" text-anchor="end"><tspan style="fill:none;stroke:none">γ=</tspan>  1</text>
<g transform="translate(0.5,0.00)" fill="none" stroke="#000" stroke-linecap="round"><path d="M453.9,49.8 C454.1,46.6 455.4,45.1 456.9,45.1 C458.5,45.1 459.1,48.6 459.9,55.8" stroke-width="1.8"/><path d="M464.5,45.2 C463.0,49.0 461.0,53.0 459.9,56.6" stroke-width="1.1"/><path d="M459.9,55.3 C460.7,58.0 461.3,60.6 460.7,62.3 C460.3,63.7 458.9,63.9 458.4,62.5 C457.8,60.6 458.9,58.0 459.9,55.3 Z" fill="#000" stroke-width="0.4"/><path d="M465.1,49.7 H476.7 M465.1,54.05 H476.7" stroke-width="1.75" stroke-linecap="butt"/></g>
<text transform="translate(505.00,83.80) scale(1,1.050)" text-anchor="end"><tspan style="fill:none;stroke:none">γ=</tspan>  2</text>
<g transform="translate(0.5,26.10)" fill="none" stroke="#000" stroke-linecap="round"><path d="M453.9,49.8 C454.1,46.6 455.4,45.1 456.9,45.1 C458.5,45.1 459.1,48.6 459.9,55.8" stroke-width="1.8"/><path d="M464.5,45.2 C463.0,49.0 461.0,53.0 459.9,56.6" stroke-width="1.1"/><path d="M459.9,55.3 C460.7,58.0 461.3,60.6 460.7,62.3 C460.3,63.7 458.9,63.9 458.4,62.5 C457.8,60.6 458.9,58.0 459.9,55.3 Z" fill="#000" stroke-width="0.4"/><path d="M465.1,49.7 H476.7 M465.1,54.05 H476.7" stroke-width="1.75" stroke-linecap="butt"/></g>
<text transform="translate(505.00,109.90) scale(1,1.050)" text-anchor="end"><tspan style="fill:none;stroke:none">γ=</tspan>  5</text>
<g transform="translate(0.5,52.20)" fill="none" stroke="#000" stroke-linecap="round"><path d="M453.9,49.8 C454.1,46.6 455.4,45.1 456.9,45.1 C458.5,45.1 459.1,48.6 459.9,55.8" stroke-width="1.8"/><path d="M464.5,45.2 C463.0,49.0 461.0,53.0 459.9,56.6" stroke-width="1.1"/><path d="M459.9,55.3 C460.7,58.0 461.3,60.6 460.7,62.3 C460.3,63.7 458.9,63.9 458.4,62.5 C457.8,60.6 458.9,58.0 459.9,55.3 Z" fill="#000" stroke-width="0.4"/><path d="M465.1,49.7 H476.7 M465.1,54.05 H476.7" stroke-width="1.75" stroke-linecap="butt"/></g>
<text transform="translate(505.00,136.00) scale(1,1.050)" text-anchor="end"><tspan style="fill:none;stroke:none">γ=</tspan>10</text>
<g transform="translate(0.5,78.30)" fill="none" stroke="#000" stroke-linecap="round"><path d="M453.9,49.8 C454.1,46.6 455.4,45.1 456.9,45.1 C458.5,45.1 459.1,48.6 459.9,55.8" stroke-width="1.8"/><path d="M464.5,45.2 C463.0,49.0 461.0,53.0 459.9,56.6" stroke-width="1.1"/><path d="M459.9,55.3 C460.7,58.0 461.3,60.6 460.7,62.3 C460.3,63.7 458.9,63.9 458.4,62.5 C457.8,60.6 458.9,58.0 459.9,55.3 Z" fill="#000" stroke-width="0.4"/><path d="M465.1,49.7 H476.7 M465.1,54.05 H476.7" stroke-width="1.75" stroke-linecap="butt"/></g>
<text transform="translate(505.00,162.10) scale(1,1.050)" text-anchor="end"><tspan style="fill:none;stroke:none">γ=</tspan>20</text>
<g transform="translate(0.5,104.40)" fill="none" stroke="#000" stroke-linecap="round"><path d="M453.9,49.8 C454.1,46.6 455.4,45.1 456.9,45.1 C458.5,45.1 459.1,48.6 459.9,55.8" stroke-width="1.8"/><path d="M464.5,45.2 C463.0,49.0 461.0,53.0 459.9,56.6" stroke-width="1.1"/><path d="M459.9,55.3 C460.7,58.0 461.3,60.6 460.7,62.3 C460.3,63.7 458.9,63.9 458.4,62.5 C457.8,60.6 458.9,58.0 459.9,55.3 Z" fill="#000" stroke-width="0.4"/><path d="M465.1,49.7 H476.7 M465.1,54.05 H476.7" stroke-width="1.75" stroke-linecap="butt"/></g>
</g>
</svg></body></html>
